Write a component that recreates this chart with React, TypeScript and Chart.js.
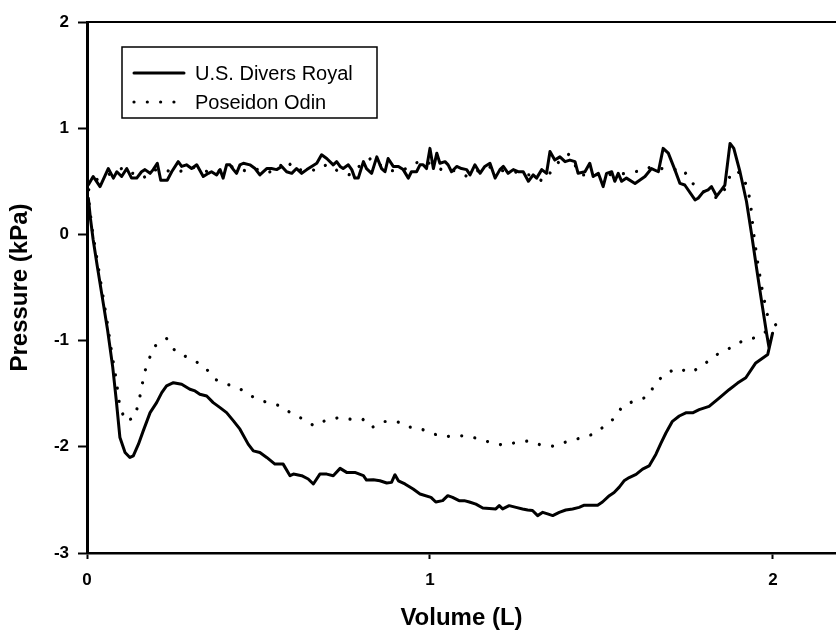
import React, { useEffect, useRef } from "react";
import { Chart, registerables } from "chart.js";

Chart.register(...registerables);

// ---- Data (Volume in L, Pressure in kPa) ----
const seriesNames = ["U.S. Divers Royal", "Poseidon Odin"];

const xTickValues = [0, 1, 2];
const yTickValues = [-3, -2, -1, 0, 1, 2];

// U.S. Divers Royal — upper branch (left to right)
const royalUpperX = [
  0.004, 0.018, 0.038, 0.062, 0.077, 0.087, 0.101, 0.116, 0.13, 0.145, 0.159, 0.169, 0.184, 0.193, 0.205,
  0.215, 0.234, 0.247, 0.266, 0.276, 0.29, 0.305, 0.32, 0.339, 0.354, 0.363, 0.378, 0.388, 0.397, 0.407,
  0.417, 0.427, 0.436, 0.446, 0.456, 0.475, 0.49, 0.504, 0.524, 0.538, 0.553, 0.568, 0.582, 0.597, 0.611,
  0.626, 0.641, 0.655, 0.67, 0.684, 0.699, 0.718, 0.728, 0.738, 0.747, 0.762, 0.772, 0.781, 0.791, 0.806,
  0.815, 0.83, 0.845, 0.859, 0.869, 0.878, 0.893, 0.908, 0.922, 0.937, 0.946, 0.961, 0.971, 0.98, 0.99,
  1.0, 1.01, 1.02, 1.029, 1.044, 1.053, 1.063, 1.078, 1.092, 1.107, 1.117, 1.131, 1.146, 1.16, 1.175,
  1.19, 1.204, 1.214, 1.228, 1.243, 1.257, 1.272, 1.287, 1.301, 1.311, 1.326, 1.34, 1.35, 1.364, 1.379,
  1.394, 1.408, 1.423, 1.432, 1.452, 1.466, 1.476, 1.491, 1.505, 1.515, 1.53, 1.539, 1.549, 1.559, 1.573,
  1.598, 1.627, 1.646, 1.666, 1.68, 1.695, 1.714, 1.729, 1.743, 1.773, 1.782, 1.797, 1.811, 1.821, 1.836,
  1.85, 1.86, 1.875, 1.886, 1.904, 1.923, 1.938, 1.952, 1.967, 1.982, 1.989, 1.999,
];
const royalUpperY = [
  0.467, 0.545, 0.45, 0.62, 0.53, 0.59, 0.545, 0.62, 0.53, 0.53, 0.59, 0.61, 0.575, 0.61, 0.67,
  0.51, 0.51, 0.59, 0.685, 0.64, 0.655, 0.62, 0.655, 0.545, 0.575, 0.59, 0.56, 0.61, 0.53, 0.655,
  0.655, 0.61, 0.575, 0.655, 0.67, 0.655, 0.62, 0.56, 0.62, 0.62, 0.61, 0.64, 0.59, 0.575, 0.62,
  0.575, 0.61, 0.64, 0.67, 0.75, 0.715, 0.655, 0.685, 0.64, 0.62, 0.655, 0.61, 0.53, 0.53, 0.685,
  0.62, 0.575, 0.73, 0.62, 0.59, 0.715, 0.64, 0.64, 0.61, 0.53, 0.59, 0.59, 0.655, 0.655, 0.62,
  0.81, 0.62, 0.765, 0.67, 0.685, 0.655, 0.59, 0.64, 0.62, 0.61, 0.56, 0.655, 0.575, 0.64, 0.67,
  0.53, 0.61, 0.64, 0.575, 0.61, 0.59, 0.59, 0.5, 0.56, 0.53, 0.61, 0.575, 0.78, 0.7, 0.73,
  0.685, 0.7, 0.685, 0.575, 0.59, 0.67, 0.545, 0.575, 0.45, 0.575, 0.59, 0.5, 0.575, 0.5, 0.53,
  0.48, 0.545, 0.62, 0.59, 0.81, 0.765, 0.61, 0.48, 0.465, 0.325, 0.34, 0.4, 0.42, 0.45, 0.36,
  0.42, 0.465, 0.857, 0.81, 0.59, 0.31, 0.0, -0.31, -0.63, -0.94, -1.07, -0.93,
];

// U.S. Divers Royal — lower branch (right to left)
const royalLowerX = [
  1.985, 1.95, 1.921, 1.897, 1.873, 1.844, 1.814, 1.785, 1.766, 1.746, 1.727, 1.707, 1.688, 1.673, 1.659,
  1.639, 1.62, 1.601, 1.581, 1.566, 1.552, 1.537, 1.523, 1.503, 1.489, 1.474, 1.45, 1.435, 1.416, 1.396,
  1.377, 1.358, 1.343, 1.329, 1.314, 1.299, 1.285, 1.27, 1.251, 1.231, 1.212, 1.202, 1.192, 1.154, 1.134,
  1.115, 1.1, 1.085, 1.066, 1.052, 1.037, 1.017, 1.003, 0.971, 0.951, 0.927, 0.908, 0.898, 0.888, 0.874,
  0.854, 0.835, 0.815, 0.806, 0.781, 0.757, 0.738, 0.718, 0.699, 0.679, 0.66, 0.645, 0.626, 0.602, 0.592,
  0.572, 0.548, 0.524, 0.504, 0.485, 0.47, 0.446, 0.427, 0.407, 0.388, 0.368, 0.349, 0.329, 0.315, 0.3,
  0.276, 0.252, 0.232, 0.218, 0.203, 0.184, 0.164, 0.15, 0.135, 0.125, 0.111, 0.096, 0.085, 0.075, 0.06,
  0.045, 0.03, 0.018, 0.01, 0.004,
];
const royalLowerY = [
  -1.13, -1.21, -1.35, -1.4, -1.46, -1.54, -1.62, -1.65, -1.68, -1.68, -1.71, -1.76, -1.87, -1.97, -2.07,
  -2.18, -2.21, -2.26, -2.29, -2.32, -2.38, -2.43, -2.46, -2.52, -2.55, -2.55, -2.55, -2.57, -2.585, -2.595,
  -2.617, -2.648, -2.632, -2.617, -2.648, -2.6, -2.595, -2.585, -2.57, -2.554, -2.585, -2.554, -2.585, -2.576, -2.54,
  -2.52, -2.507, -2.507, -2.476, -2.46, -2.507, -2.52, -2.476, -2.444, -2.398, -2.35, -2.32, -2.263, -2.335, -2.341,
  -2.32, -2.31, -2.313, -2.272, -2.241, -2.241, -2.203, -2.272, -2.257, -2.257, -2.35, -2.303, -2.272, -2.257, -2.272,
  -2.163, -2.163, -2.1, -2.053, -2.038, -1.975, -1.834, -1.756, -1.678, -1.631, -1.584, -1.521, -1.505, -1.474, -1.458,
  -1.411, -1.396, -1.427, -1.49, -1.584, -1.678, -1.85, -1.975, -2.085, -2.1, -2.053, -1.913, -1.55, -1.25, -0.9,
  -0.6, -0.3, -0.05, 0.15, 0.34,
];

// Poseidon Odin — upper branch (left to right)
const odinUpperX = [
  0.005, 0.03, 0.06, 0.09, 0.106, 0.13, 0.164, 0.19, 0.22, 0.25, 0.28, 0.31, 0.34, 0.37, 0.4,
  0.43, 0.46, 0.49, 0.52, 0.55, 0.58, 0.61, 0.64, 0.67, 0.7, 0.73, 0.767, 0.8, 0.83, 0.86,
  0.89, 0.92, 0.95, 0.98, 1.01, 1.04, 1.07, 1.109, 1.14, 1.17, 1.2, 1.23, 1.26, 1.29, 1.33,
  1.358, 1.38, 1.404, 1.44, 1.47, 1.503, 1.54, 1.58, 1.628, 1.646, 1.675, 1.705, 1.738, 1.758, 1.79,
  1.815, 1.84, 1.865, 1.877, 1.895, 1.913, 1.928, 1.935, 1.943, 1.954, 1.967, 1.983, 2.009,
];
const odinUpperY = [
  0.42, 0.52, 0.56, 0.6, 0.63, 0.58, 0.53, 0.6, 0.62, 0.58, 0.6, 0.63, 0.6, 0.58, 0.62,
  0.64, 0.6, 0.62, 0.58, 0.6, 0.7, 0.6, 0.62, 0.6, 0.66, 0.6, 0.56, 0.66, 0.72, 0.64,
  0.6, 0.6, 0.66, 0.7, 0.65, 0.6, 0.6, 0.545, 0.6, 0.64, 0.6, 0.6, 0.58, 0.56, 0.5,
  0.61, 0.7, 0.754, 0.56, 0.56, 0.566, 0.56, 0.58, 0.607, 0.64, 0.62, 0.607, 0.62, 0.5, 0.42,
  0.37, 0.34, 0.45, 0.575, 0.6, 0.545, 0.41, 0.285, 0.03, -0.23, -0.49, -0.75, -0.855,
];

// Poseidon Odin — lower branch (right to left)
const odinLowerX = [
  1.955, 1.914, 1.873, 1.832, 1.797, 1.761, 1.722, 1.686, 1.657, 1.635, 1.596, 1.562, 1.537, 1.506, 1.477,
  1.437, 1.401, 1.361, 1.321, 1.29, 1.251, 1.214, 1.181, 1.147, 1.107, 1.074, 1.039, 0.998, 0.966, 0.93,
  0.905, 0.866, 0.83, 0.804, 0.778, 0.738, 0.699, 0.662, 0.631, 0.595, 0.566, 0.526, 0.487, 0.448, 0.409,
  0.373, 0.341, 0.3, 0.259, 0.232, 0.195, 0.179, 0.166, 0.159, 0.15, 0.14, 0.114, 0.096, 0.085, 0.072,
  0.06, 0.045, 0.03, 0.015, 0.006,
];
const odinLowerY = [
  -0.967, -0.998, -1.073, -1.139, -1.23, -1.302, -1.261, -1.311, -1.405, -1.53, -1.568, -1.615, -1.734, -1.812, -1.881,
  -1.919, -1.95, -1.994, -1.981, -1.944, -1.96, -1.984, -1.965, -1.928, -1.897, -1.897, -1.906, -1.866, -1.819, -1.812,
  -1.762, -1.762, -1.819, -1.74, -1.746, -1.724, -1.746, -1.803, -1.74, -1.684, -1.615, -1.584, -1.537, -1.458, -1.411,
  -1.365, -1.239, -1.167, -1.108, -0.98, -1.058, -1.192, -1.317, -1.458, -1.584, -1.718, -1.762, -1.631, -1.365, -1.114,
  -0.85, -0.55, -0.25, 0.05, 0.3,
];

const FONT = '"Liberation Sans", Arial, Helvetica, sans-serif';
const DOT_DASH = [0.01, 13.3];

function toPoints(xs: number[], ys: number[]) {
  return xs.map((x, i) => ({ x, y: ys[i] }));
}

const framePlugin = {
  id: "frameAndLegend",
  afterDraw(chart: any) {
    const { ctx, chartArea } = chart;
    ctx.save();
    // top frame line
    ctx.strokeStyle = "#000";
    ctx.lineWidth = 2;
    ctx.beginPath();
    ctx.moveTo(chartArea.left, chartArea.top);
    ctx.lineTo(chartArea.right, chartArea.top);
    ctx.stroke();

    // legend box
    const bx = chartArea.left + 35;
    const by = chartArea.top + 25;
    const bw = 255;
    const bh = 71;
    ctx.lineWidth = 1.5;
    ctx.strokeRect(bx, by, bw, bh);

    const datasets = chart.data.datasets;
    const rows = [by + 26, by + 55];
    ctx.font = `20px ${FONT}`;
    ctx.fillStyle = "#000";
    ctx.textBaseline = "middle";
    datasets.forEach((ds: any, i: number) => {
      const yy = rows[i];
      ctx.save();
      ctx.strokeStyle = ds.borderColor;
      ctx.lineWidth = ds.borderWidth;
      ctx.lineCap = ds.borderCapStyle || "butt";
      ctx.setLineDash(ds.borderDash || []);
      ctx.beginPath();
      ctx.moveTo(bx + 12, yy);
      ctx.lineTo(bx + 62, yy);
      ctx.stroke();
      ctx.restore();
      ctx.fillText(ds.label, bx + 73, yy + 1);
    });
    ctx.restore();
  },
};

export default function App() {
  const canvasRef = useRef<HTMLCanvasElement | null>(null);

  useEffect(() => {
    document.body.style.margin = "0";
    const canvas = canvasRef.current;
    if (!canvas) return;

    const royal = [...toPoints(royalUpperX, royalUpperY), ...toPoints(royalLowerX, royalLowerY)];
    const odin = [...toPoints(odinUpperX, odinUpperY), ...toPoints(odinLowerX, odinLowerY)];

    const chart = new Chart(canvas, {
      type: "scatter",
      data: {
        datasets: [
          {
            label: seriesNames[0],
            data: royal,
            showLine: true,
            borderColor: "#000",
            borderWidth: 3,
            borderCapStyle: "round",
            borderJoinStyle: "round",
            pointRadius: 0,
            tension: 0,
            clip: 4,
          },
          {
            label: seriesNames[1],
            data: odin,
            showLine: true,
            borderColor: "#000",
            borderWidth: 3.2,
            borderDash: DOT_DASH,
            borderCapStyle: "round",
            pointRadius: 0,
            tension: 0,
            clip: 4,
          },
        ],
      } as any,
      options: {
        animation: false,
        responsive: true,
        maintainAspectRatio: false,
        layout: { padding: { top: 22, right: 0, left: 0, bottom: 0 } },
        plugins: {
          legend: { display: false },
          tooltip: { enabled: false },
        },
        scales: {
          x: {
            type: "linear",
            min: 0,
            max: 2.184,
            afterBuildTicks: (scale: any) => {
              scale.ticks = xTickValues.map((v) => ({ value: v }));
            },
            afterFit: (scale: any) => {
              scale.height = 84;
            },
            grid: {
              display: true,
              drawOnChartArea: false,
              drawTicks: true,
              tickLength: 6,
              tickWidth: 2,
              tickColor: "#000",
            },
            border: { display: true, color: "#000", width: 2.5 },
            ticks: {
              color: "#000",
              font: { family: FONT, size: 17, weight: "bold" },
              padding: 11,
              maxRotation: 0,
              callback: (v: any) => String(v),
            },
            title: {
              display: true,
              text: "Volume (L)",
              color: "#000",
              font: { family: FONT, size: 24, weight: "bold", lineHeight: 1.2 },
              padding: { top: 0, bottom: 4 },
            },
          },
          y: {
            type: "linear",
            min: -3,
            max: 2,
            afterBuildTicks: (scale: any) => {
              scale.ticks = yTickValues.map((v) => ({ value: v }));
            },
            afterFit: (scale: any) => {
              scale.width = 87;
            },
            grid: {
              display: true,
              drawOnChartArea: false,
              drawTicks: true,
              tickLength: 9,
              tickWidth: 2,
              tickColor: "#000",
            },
            border: { display: true, color: "#000", width: 3 },
            ticks: {
              color: "#000",
              font: { family: FONT, size: 17, weight: "bold" },
              padding: 9,
              callback: (v: any) => String(v),
            },
            title: {
              display: true,
              text: "Pressure (kPa)",
              color: "#000",
              font: { family: FONT, size: 24, weight: "bold", lineHeight: 1.2 },
              padding: { top: 6, bottom: 0 },
            },
          },
        },
      } as any,
      plugins: [framePlugin],
    });

    return () => chart.destroy();
  }, []);

  return (
    <div style={{ position: "relative", width: 836, height: 637 }}>
      <canvas ref={canvasRef} />
    </div>
  );
}
